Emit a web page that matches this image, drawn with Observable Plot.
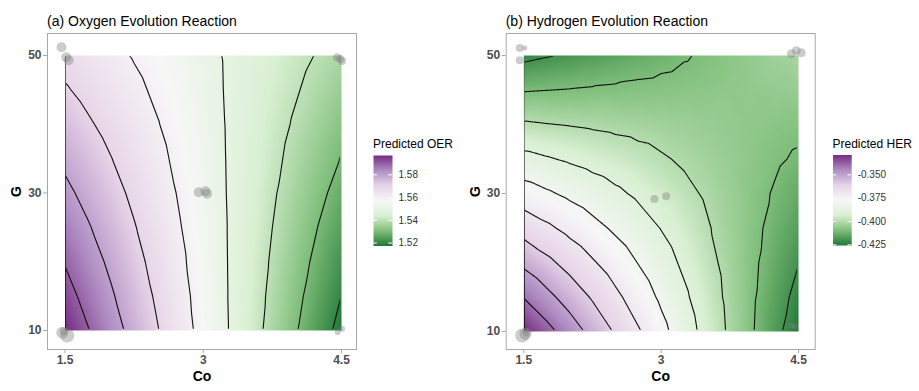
<!DOCTYPE html>
<html><head><meta charset="utf-8">
<script src="https://cdn.jsdelivr.net/npm/d3@7"></script>
<script src="https://cdn.jsdelivr.net/npm/@observablehq/plot@0.6"></script>
<style>
html,body{margin:0;padding:0;background:#fff;}
#root{position:relative;width:919px;height:391px;overflow:hidden;font-family:"Liberation Sans",Arial,sans-serif;}
.abs{position:absolute;}
.title{font-size:14px;line-height:14px;color:#000;white-space:nowrap;}
.ltitle{font-size:12px;line-height:12px;color:#000;white-space:nowrap;}
svg{position:absolute;top:0;}
</style></head><body>
<div id="root">
  <div class="abs title" style="left:47px;top:13.5px">(a) Oxygen Evolution Reaction</div>
  <div class="abs title" style="left:505.7px;top:13.5px">(b) Hydrogen Evolution Reaction</div>
  <div class="abs ltitle" style="left:373px;top:138px">Predicted OER</div>
  <div class="abs ltitle" style="left:832.5px;top:138px">Predicted HER</div>
</div>
<script>
// ---- data ----
const coGrid = [1.5, 1.75, 2.0, 2.25, 2.5, 2.75, 3.0, 3.25, 3.5, 3.75, 4.0, 4.25, 4.5];
const gGrid = [10, 15, 20, 25, 30, 35, 40, 45, 50];

// predicted OER, one row per G value (10 ... 50), columns follow coGrid
const oerValues = [
  [1.5970, 1.5904, 1.5837, 1.5771, 1.5705, 1.5638, 1.5572, 1.5506, 1.5439, 1.5373, 1.5307, 1.5240, 1.5174],
  [1.5933, 1.5871, 1.5810, 1.5749, 1.5688, 1.5627, 1.5566, 1.5504, 1.5443, 1.5382, 1.5321, 1.5260, 1.5199],
  [1.5895, 1.5839, 1.5783, 1.5727, 1.5671, 1.5615, 1.5559, 1.5503, 1.5447, 1.5391, 1.5335, 1.5279, 1.5223],
  [1.5858, 1.5807, 1.5756, 1.5705, 1.5654, 1.5603, 1.5553, 1.5502, 1.5451, 1.5400, 1.5349, 1.5298, 1.5248],
  [1.5820, 1.5774, 1.5729, 1.5683, 1.5637, 1.5592, 1.5546, 1.5500, 1.5455, 1.5409, 1.5363, 1.5318, 1.5272],
  [1.5782, 1.5742, 1.5702, 1.5661, 1.5621, 1.5580, 1.5540, 1.5499, 1.5459, 1.5418, 1.5378, 1.5337, 1.5297],
  [1.5745, 1.5710, 1.5674, 1.5639, 1.5604, 1.5568, 1.5533, 1.5498, 1.5462, 1.5427, 1.5392, 1.5356, 1.5321],
  [1.5708, 1.5677, 1.5647, 1.5617, 1.5587, 1.5557, 1.5527, 1.5496, 1.5466, 1.5436, 1.5406, 1.5376, 1.5346],
  [1.5670, 1.5645, 1.5620, 1.5595, 1.5570, 1.5545, 1.5520, 1.5495, 1.5470, 1.5445, 1.5420, 1.5395, 1.5370]
];

// predicted HER, one row per G value (10 ... 50), columns follow coGrid
const herValues = [
  [-0.3287, -0.3368, -0.3449, -0.3530, -0.3610, -0.3691, -0.3772, -0.3853, -0.3934, -0.4015, -0.4095, -0.4176, -0.4257],
  [-0.3404, -0.3473, -0.3541, -0.3610, -0.3679, -0.3747, -0.3816, -0.3884, -0.3953, -0.4022, -0.4090, -0.4159, -0.4228],
  [-0.3521, -0.3577, -0.3634, -0.3690, -0.3747, -0.3803, -0.3860, -0.3916, -0.3973, -0.4029, -0.4085, -0.4142, -0.4198],
  [-0.3638, -0.3682, -0.3727, -0.3771, -0.3815, -0.3859, -0.3903, -0.3948, -0.3992, -0.4036, -0.4080, -0.4125, -0.4169],
  [-0.3755, -0.3787, -0.3819, -0.3851, -0.3883, -0.3915, -0.3947, -0.3979, -0.4011, -0.4043, -0.4075, -0.4108, -0.4140],
  [-0.3872, -0.3892, -0.3912, -0.3932, -0.3951, -0.3971, -0.3991, -0.4011, -0.4031, -0.4051, -0.4070, -0.4090, -0.4110],
  [-0.3989, -0.3997, -0.4004, -0.4012, -0.4020, -0.4027, -0.4035, -0.4042, -0.4050, -0.4058, -0.4065, -0.4073, -0.4081],
  [-0.4106, -0.4101, -0.4097, -0.4092, -0.4088, -0.4083, -0.4079, -0.4074, -0.4070, -0.4065, -0.4061, -0.4056, -0.4051],
  [-0.4223, -0.4206, -0.4190, -0.4173, -0.4156, -0.4139, -0.4123, -0.4106, -0.4089, -0.4072, -0.4056, -0.4039, -0.4022]
];

// experimental design points (jittered), with their marker radii
const oerDotCo = [1.462, 1.513, 1.541, 1.470, 1.524, 1.487, 2.951, 3.024, 3.042, 4.452, 4.488, 4.506, 4.459, 4.506];
const oerDotG  = [51.2, 49.75, 49.3, 9.67, 9.27, 9.9, 30.1, 30.26, 29.9, 49.75, 49.5, 49.2, 9.75, 10.25];
const oerDotR  = [5, 5, 5, 6, 7, 4, 5, 5, 5, 4, 4, 4, 3, 3];

const herDotCo = [1.456, 1.511, 1.456, 1.483, 1.519, 1.530, 2.927, 3.055, 4.423, 4.475, 4.530, 4.423, 4.459];
const herDotG  = [51.1, 51.1, 49.3, 9.42, 9.67, 9.9, 29.2, 29.6, 50.25, 50.7, 50.4, 10.87, 10.72];
const herDotR  = [4, 2.5, 4, 7, 6, 4, 4, 4, 4.5, 4.5, 4.5, 3, 3];

const oerLevels = [1.52, 1.53, 1.54, 1.55, 1.56, 1.57, 1.58, 1.59];
const herLevels = [-0.42, -0.41, -0.40, -0.39, -0.38, -0.37, -0.36, -0.35, -0.34, -0.33];
const oerLegendTicks = [1.52, 1.54, 1.56, 1.58];
const herLegendTicks = [-0.425, -0.400, -0.375, -0.350];
const xTicks = [1.5, 3, 4.5];
const yTicks = [10, 30, 50];
const palette = ["#1b7837", "#7fbf7b", "#d9f0d3", "#f7f7f7", "#e7d4e8", "#af8dc3", "#762a83"];

// ---- helpers ----
const FONT = '"Liberation Sans", Arial, sans-serif';
const root = document.getElementById("root");

function gridTable(values) {
  const rows = [];
  gGrid.forEach((g, j) => coGrid.forEach((co, i) => rows.push({co, g, v: values[j][i]})));
  return rows;
}
function colorScale(values) {
  const [lo, hi] = d3.extent(values.flat());
  return {
    type: "linear",
    domain: palette.map((_, i) => lo + (hi - lo) * i / (palette.length - 1)),
    range: palette,
    interpolate: "lab"
  };
}
function clipMark(svg, label, x1, x2, y1, y2, pad) {
  const g = svg.querySelector(`g[aria-label="${label}"]`);
  if (!g) return;
  const sx = svg.scale("x"), sy = svg.scale("y");
  const ns = "http://www.w3.org/2000/svg";
  const id = "clip-" + Math.random().toString(36).slice(2);
  const defs = document.createElementNS(ns, "defs");
  const cp = document.createElementNS(ns, "clipPath");
  cp.setAttribute("id", id);
  const rect = document.createElementNS(ns, "rect");
  const a = Math.min(sx.apply(x1), sx.apply(x2)) + pad, b = Math.max(sx.apply(x1), sx.apply(x2)) - pad;
  const c = Math.min(sy.apply(y1), sy.apply(y2)) + pad, d = Math.max(sy.apply(y1), sy.apply(y2)) - pad;
  rect.setAttribute("x", a); rect.setAttribute("y", c);
  rect.setAttribute("width", b - a); rect.setAttribute("height", d - c);
  cp.appendChild(rect); defs.appendChild(cp);
  svg.appendChild(defs);
  const wrap = document.createElementNS(ns, "g");
  wrap.setAttribute("clip-path", `url(#${id})`);
  g.parentNode.insertBefore(wrap, g);
  wrap.appendChild(g);
}

function panel(cfg) {
  const table = gridTable(cfg.values);
  const dots = cfg.dotCo.map((co, i) => ({co, g: cfg.dotG[i], r: cfg.dotR[i]}));
  const x1 = coGrid[0], x2 = coGrid[coGrid.length - 1];
  const y1 = gGrid[0], y2 = gGrid[gGrid.length - 1];
  const svg = Plot.plot({
    width: cfg.width, height: 391,
    marginLeft: cfg.marginLeft, marginRight: cfg.marginRight, marginTop: 33, marginBottom: 42,
    x: {domain: cfg.xDomain},
    y: {domain: cfg.yDomain},
    color: colorScale(cfg.values),
    r: {type: "linear", domain: [0, 10], range: [0, 10]},
    style: {fontFamily: FONT, background: "transparent", overflow: "visible"},
    marks: [
      Plot.raster(table, {x: "co", y: "g", fill: "v", interpolate: "barycentric", x1, x2, y1, y2, pixelSize: 1}),
      Plot.contour(table, {x: "co", y: "g", value: "v", interpolate: "barycentric", x1, x2, y1, y2,
        thresholds: cfg.levels, pixelSize: 1, fill: "none", stroke: "#151515", strokeWidth: 1.15}),
      Plot.dot(dots, {x: "co", y: "g", r: "r", fill: "#808080", fillOpacity: 0.4}),
      Plot.frame({stroke: "#a8a8a8"}),
      Plot.axisX({ticks: xTicks, tickFormat: d => String(d), tickSize: 4, tickPadding: 2, fontSize: 12, fontWeight: "bold",
        fill: "#4d4d4d", stroke: "#a8a8a8", label: null}),
      Plot.axisY({ticks: yTicks, tickFormat: d => String(d), tickSize: 4, tickPadding: 2, fontSize: 12, fontWeight: "bold",
        fill: "#4d4d4d", stroke: "#a8a8a8", label: null}),
      Plot.text(["Co"], {text: d => d, frameAnchor: "bottom", dy: 27, lineAnchor: "middle", textAnchor: "middle",
        fontSize: 14, fontWeight: "bold", fill: "#000"}),
      Plot.text(["G"], {text: d => d, frameAnchor: "left", dx: -31, rotate: -90, lineAnchor: "middle", textAnchor: "middle",
        fontSize: 14, fontWeight: "bold", fill: "#000"})
    ]
  });
  clipMark(svg, "contour", x1, x2, y1, y2, 1.2);
  svg.style.left = cfg.left + "px";
  root.appendChild(svg);
}

function legend(cfg) {
  const [lo, hi] = d3.extent(cfg.values.flat());
  const barW = cfg.barWidth;
  const svg = Plot.plot({
    width: cfg.width, height: 391,
    marginLeft: cfg.marginLeft, marginRight: cfg.width - cfg.marginLeft - barW,
    marginTop: cfg.marginTop, marginBottom: cfg.marginBottom,
    x: {domain: [0, 1], axis: null},
    y: {domain: [lo, hi]},
    color: colorScale(cfg.values),
    style: {fontFamily: FONT, background: "transparent", overflow: "visible"},
    marks: [
      Plot.raster({fill: (x, y) => y, x1: 0, x2: 1, y1: lo, y2: hi, pixelSize: 1}),
      Plot.ruleY(cfg.ticks, {y: d => d, x1: 0, x2: 0.2, stroke: "white", strokeWidth: 1}),
      Plot.ruleY(cfg.ticks, {y: d => d, x1: 0.8, x2: 1, stroke: "white", strokeWidth: 1}),
      Plot.axisY({ticks: cfg.ticks, anchor: "right", tickSize: 0, tickPadding: 6, tickFormat: cfg.format,
        fontSize: 10, fill: "#333", label: null})
    ]
  });
  svg.style.left = cfg.left + "px";
  root.appendChild(svg);
}

panel({values: oerValues, levels: oerLevels, dotCo: oerDotCo, dotG: oerDotG, dotR: oerDotR,
  left: 0, width: 360, marginLeft: 47, marginRight: 4, xDomain: [1.3101, 4.6627], yDomain: [7.236, 53.2]});
panel({values: herValues, levels: herLevels, dotCo: herDotCo, dotG: herDotG, dotR: herDotR,
  left: 460, width: 360, marginLeft: 45.7, marginRight: 5.3, xDomain: [1.308, 4.682], yDomain: [7.39, 53.19]});
legend({values: oerValues, ticks: oerLegendTicks, format: d => d.toFixed(2),
  left: 360, width: 100, marginLeft: 13, barWidth: 19, marginTop: 155, marginBottom: 145.5});
legend({values: herValues, ticks: herLegendTicks, format: d => d.toFixed(3),
  left: 820, width: 99, marginLeft: 12.5, barWidth: 18.7, marginTop: 154.5, marginBottom: 146});
</script>
</body></html>
